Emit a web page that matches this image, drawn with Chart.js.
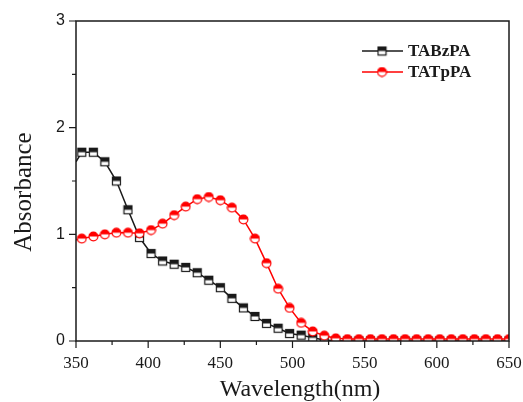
<!DOCTYPE html>
<html>
<head>
<meta charset="utf-8">
<script src="https://cdn.jsdelivr.net/npm/chart.js@4/dist/chart.umd.min.js"></script>
<style>
  html, body { margin: 0; padding: 0; background: #fff; }
</style>
</head>
<body>
<canvas id="chart" width="523" height="402"></canvas>
<script>
// absorption spectra
const wavelength = [350, 354, 362, 370, 378, 386, 394, 402, 410, 418, 426, 434, 442, 450, 458, 466, 474, 482, 490, 498,
                    506, 514, 522, 530, 538, 546, 554, 562, 570, 578, 586, 594, 602, 610, 618, 626, 634, 642, 650];
const tabzpa = [1.68, 1.77, 1.77, 1.68, 1.50, 1.23, 0.97, 0.82, 0.75, 0.72, 0.69, 0.64, 0.57, 0.50, 0.40, 0.31, 0.23, 0.165, 0.12, 0.07,
                0.055, 0.03, 0.01, 0.0, 0.0, 0.0, 0.0, 0.0, 0.0, 0.0, 0.0, 0.0, 0.0, 0.0, 0.0, 0.0, 0.0, 0.0, 0.0];
const tatppa = [0.95, 0.96, 0.98, 1.00, 1.015, 1.015, 1.01, 1.04, 1.10, 1.18, 1.26, 1.33, 1.35, 1.32, 1.25, 1.14, 0.96, 0.73, 0.49, 0.31,
                0.17, 0.09, 0.05, 0.025, 0.018, 0.018, 0.018, 0.018, 0.018, 0.018, 0.018, 0.018, 0.018, 0.018, 0.018, 0.018, 0.018, 0.018, 0.018];
const seriesNames = ["TABzPA", "TATpPA"];

const INK = "#1a1a1a";
const RED = "#ff0000";

// half-filled markers (top filled, bottom hollow)
function halfMarker(shape, color){
  const s = 11;
  const c = document.createElement("canvas");
  c.width = s; c.height = s;
  const g = c.getContext("2d");
  g.lineWidth = 1.2;
  g.strokeStyle = color;
  if(shape === "square"){
    g.fillStyle = "#fff"; g.fillRect(1.5, 1.5, 8, 8);
    g.fillStyle = color; g.fillRect(1.5, 1.5, 8, 4);
    g.strokeRect(1.5, 1.5, 8, 8);
  } else {
    g.beginPath(); g.arc(5.5, 5.5, 4.4, 0, Math.PI * 2); g.fillStyle = "#fff"; g.fill();
    g.beginPath(); g.arc(5.5, 5.5, 4.4, Math.PI, 0); g.closePath(); g.fillStyle = color; g.fill();
    g.beginPath(); g.arc(5.5, 5.5, 4.4, 0, Math.PI * 2); g.stroke();
  }
  return c;
}
const sq = halfMarker("square", INK);
const circ = halfMarker("circle", RED);

function pts(vals){
  return wavelength.map((w, i) => ({x: w, y: vals[i]}));
}

const frame = {
  id: "frame",
  afterDraw(chart){
    const {ctx, chartArea: a, scales: {x, y}} = chart;
    ctx.save();
    ctx.strokeStyle = INK;
    ctx.lineWidth = 1.5;
    ctx.strokeRect(a.left, a.top, a.right - a.left, a.bottom - a.top);

    ctx.lineWidth = 1.2;
    ctx.beginPath();
    x.ticks.forEach(t => {
      const px = x.getPixelForValue(t.value);
      const len = t.value % 50 === 0 ? 7 : 4;
      ctx.moveTo(px, a.bottom); ctx.lineTo(px, a.bottom + len);
    });
    y.ticks.forEach(t => {
      const py = y.getPixelForValue(t.value);
      const len = Number.isInteger(t.value) ? 7 : 4;
      ctx.moveTo(a.left, py); ctx.lineTo(a.left - len, py);
    });
    ctx.stroke();

    // axis titles
    ctx.fillStyle = INK;
    ctx.textAlign = "center";
    ctx.textBaseline = "middle";
    ctx.font = "24px 'Liberation Serif'";
    ctx.fillText("Wavelength(nm)", 300, 390);
    ctx.save();
    ctx.translate(24, 192);
    ctx.rotate(-Math.PI / 2);
    ctx.font = "25px 'Liberation Serif'";
    ctx.fillText("Absorbance", 0, 0);
    ctx.restore();

    // legend
    const rows = [{c: INK, m: sq}, {c: RED, m: circ}];
    ctx.font = "bold 17px 'Liberation Serif'";
    ctx.textAlign = "left";
    rows.forEach((r, i) => {
      const yy = 51 + i * 21;
      ctx.strokeStyle = r.c;
      ctx.lineWidth = 1.5;
      ctx.beginPath(); ctx.moveTo(362, yy); ctx.lineTo(403, yy); ctx.stroke();
      ctx.drawImage(r.m, 382 - 5.5, yy - 5.5);
      ctx.fillStyle = INK;
      ctx.fillText(chart.data.datasets[i].label, 408, yy + 1);
    });
    ctx.restore();
  }
};

new Chart(document.getElementById("chart"), {
  type: "line",
  data: {
    datasets: [
      {
        label: seriesNames[0],
        data: pts(tabzpa),
        borderColor: INK,
        borderWidth: 1.5,
        pointStyle: c => c.dataIndex === 0 ? false : sq,
        order: 1
      },
      {
        label: seriesNames[1],
        data: pts(tatppa),
        borderColor: RED,
        borderWidth: 1.5,
        pointStyle: c => c.dataIndex === 0 ? false : circ,
        order: 0
      }
    ]
  },
  options: {
    responsive: false,
    animation: false,
    layout: {padding: {top: 21, right: 0, left: 0, bottom: 0}},
    plugins: {legend: {display: false}, tooltip: {enabled: false}},
    scales: {
      x: {
        type: "linear", min: 350, max: 650,
        grid: {display: false, drawTicks: false},
        border: {display: false},
        ticks: {
          stepSize: 25, autoSkip: false, maxRotation: 0, padding: 12, color: INK,
          font: {family: "'Liberation Serif'", size: 17},
          callback: v => v % 50 === 0 ? v : ""
        },
        afterFit: s => { s.height = 61; s.paddingLeft = 0; s.paddingRight = 14; }
      },
      y: {
        min: 0, max: 3,
        grid: {display: false, drawTicks: false},
        border: {display: false},
        ticks: {
          stepSize: 0.5, padding: 11, color: INK,
          font: {family: "'Liberation Sans'", size: 16},
          callback: v => Number.isInteger(v) ? v : ""
        },
        afterFit: s => { s.width = 76; s.paddingTop = 0; s.paddingBottom = 0; }
      }
    }
  },
  plugins: [frame]
});
</script>
</body>
</html>
